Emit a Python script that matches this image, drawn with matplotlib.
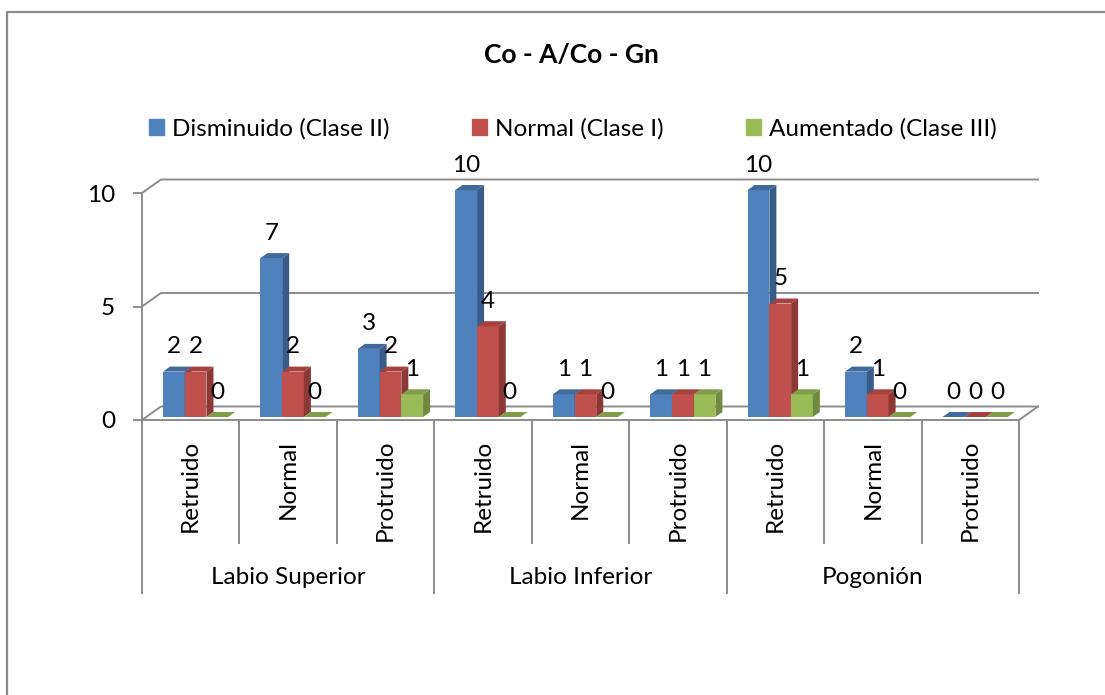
import numpy as np
import matplotlib.pyplot as plt
from matplotlib.patches import Polygon, Patch
from matplotlib.lines import Line2D

plt.rcParams['font.family'] = ['Lato', 'DejaVu Sans']

# data
title = 'Co - A/Co - Gn'
groups = ['Labio Superior', 'Labio Inferior', 'Pogonión']
subcats = ['Retruido', 'Normal', 'Protruido']
series = ['Disminuido (Clase II)', 'Normal (Clase I)', 'Aumentado (Clase III)']
disminuido = [2, 7, 3, 10, 1, 1, 10, 2, 0]
normal = [2, 2, 2, 4, 1, 1, 5, 1, 0]
aumentado = [0, 0, 1, 0, 0, 1, 1, 0, 0]
yticks = [0, 5, 10]

front_c = ['#4F81BD', '#C0504D', '#9BBB59']
side_c = ['#385D8A', '#8C3836', '#71893F']
top_c = ['#40699C', '#A5423F', '#809E48']
grid_c = '#8c8c8c'
fs = 17.5

W, H = 1105, 695
fig = plt.figure(figsize=(W / 100, H / 100), dpi=100)
ax = fig.add_axes([142 / W, 1 - 420 / H, 877 / W, 227 / H])
n = len(disminuido)
ax.set_xlim(-0.5, n - 0.5)
ax.set_ylim(0, 10)

# pixel sizes in data units
ux = n / 877
uy = 10 / 227
wdx, wdy = 19 * ux, 13.5 * uy   # wall depth
bdx, bdy = 7 * ux, 5 * uy       # bar depth
base = 3 * uy

# walls / gridlines
for v in yticks:
    ax.plot([-0.5, -0.5 + wdx, n - 0.5 + wdx], [v, v + wdy, v + wdy],
            color=grid_c, lw=1.4, clip_on=False, zorder=1)
ax.plot([-0.5, n - 0.5, n - 0.5 + wdx], [0, 0, wdy], color=grid_c, lw=1.4,
        clip_on=False, zorder=1)

# category axis lines
for i in range(n + 1):
    x = i - 0.5
    low = -7.62 if i % 3 == 0 else -5.42
    ax.plot([x, x], [0, low], color=grid_c, lw=1.4, clip_on=False, zorder=1)

for sp in ['top', 'right', 'bottom']:
    ax.spines[sp].set_visible(False)
ax.spines['left'].set_color(grid_c)
ax.spines['left'].set_linewidth(1.4)
ax.set_xticks([])
ax.set_yticks(yticks)
ax.tick_params(axis='y', length=6.5, width=1.4, color=grid_c, labelsize=fs, pad=13)
ax.patch.set_alpha(0)

# bars
pos = np.arange(n)
offs = [-0.173, 0.05, 0.273]
bw = 0.223
for s, vals in enumerate([disminuido, normal, aumentado]):
    z = 3 + s
    ax.bar(pos + offs[s], vals, width=bw, bottom=base, color=front_c[s],
           zorder=z, clip_on=False)
    for p, v in zip(pos, vals):
        x0 = p + offs[s] - bw / 2
        x1 = x0 + bw
        yt = base + v
        if v > 0:
            ax.add_patch(Polygon([(x1, base), (x1 + bdx, base + bdy),
                                  (x1 + bdx, yt + bdy), (x1, yt)],
                                 closed=True, color=side_c[s], zorder=z,
                                 clip_on=False, lw=0))
        ax.add_patch(Polygon([(x0, yt), (x0 + bdx, yt + bdy),
                              (x1 + bdx, yt + bdy), (x1, yt)],
                             closed=True, color=top_c[s], zorder=z,
                             clip_on=False, lw=0))
        ax.text(p + offs[s], yt + 1.1, str(v), ha='center', va='center',
                fontsize=fs, zorder=10)

# category labels
for p in pos:
    ax.text(p, -0.88, subcats[p % 3], rotation=90, ha='center', va='top',
            fontsize=fs)
for g, name in enumerate(groups):
    ax.text(3 * g + 1, -6.96, name, ha='center', va='center', fontsize=fs)

# legend
handles = [Patch(color=c) for c in front_c]
fig.legend(handles, series, loc='center', bbox_to_anchor=(573 / W, 1 - 129 / H),
           ncol=3, frameon=False, fontsize=fs, handlelength=0.62,
           handleheight=0.62, handletextpad=0.33, columnspacing=3.4)

fig.text(571 / W, 1 - 55 / H, title, fontweight='bold', fontsize=19,
         ha='center', va='center')

# chart border (top and left visible)
fig.add_artist(Line2D([7 / W, 7 / W, 1], [0, 1 - 12 / H, 1 - 12 / H],
                      color='#8a8a8a', lw=1.6))

fig.savefig('out.png', dpi=100)
